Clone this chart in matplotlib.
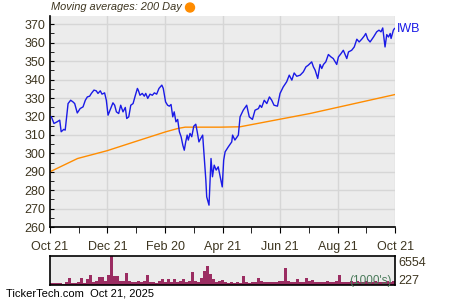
import numpy as np
import matplotlib
matplotlib.use('Agg')
from matplotlib import pyplot as plt

plt.rcParams['font.family'] = ['Liberation Sans', 'DejaVu Sans']

# price in months since Oct 21
months = [0.05, 0.14, 0.25, 0.34, 0.39, 0.48, 0.53, 0.63, 0.72, 0.80, 0.86, 0.95,
          1.05, 1.15, 1.23, 1.30, 1.38, 1.44, 1.53, 1.61, 1.67, 1.75, 1.81, 1.90,
          1.96, 2.02, 2.10, 2.19, 2.25, 2.31, 2.39, 2.46, 2.54, 2.62, 2.67, 2.74,
          2.81, 2.89, 2.97, 3.04, 3.07, 3.13, 3.21, 3.28, 3.33, 3.40, 3.48, 3.56,
          3.63, 3.71, 3.79, 3.89, 3.94, 4.02, 4.09, 4.15, 4.21, 4.27, 4.32, 4.38,
          4.44, 4.50, 4.56, 4.62, 4.67, 4.72, 4.77, 4.81, 4.87, 4.93, 5.00, 5.07,
          5.12, 5.18, 5.24, 5.31, 5.37, 5.42, 5.45, 5.53, 5.60, 5.65, 5.71, 5.78,
          5.85, 5.94, 5.99, 6.04, 6.09, 6.20, 6.32, 6.35, 6.43, 6.55, 6.61, 6.72,
          6.84, 6.93, 7.04, 7.13, 7.25, 7.30, 7.36, 7.45, 7.54, 7.63, 7.71, 7.79,
          7.91, 8.00, 8.11, 8.23, 8.32, 8.41, 8.49, 8.58, 8.70, 8.81, 8.90, 8.98,
          9.10, 9.16, 9.22, 9.31, 9.39, 9.45, 9.51, 9.59, 9.68, 9.77, 9.85, 9.97,
          10.03, 10.12, 10.20, 10.32, 10.38, 10.49, 10.58, 10.67, 10.75, 10.84,
          10.93, 10.98, 11.05, 11.13, 11.25, 11.36, 11.44, 11.51, 11.57, 11.65,
          11.71, 11.77, 11.83, 11.86, 11.94, 11.98]
price = [319.8, 316.2, 317.1, 318.0, 311.7, 313.0, 312.6, 327.0, 328.8, 327.9, 327.0, 321.9,
         324.3, 325.2, 328.8, 330.6, 331.0, 332.5, 334.3, 333.9, 332.5, 333.9, 332.1, 332.8,
         328.8, 320.7, 323.8, 327.4, 326.1, 322.5, 321.6, 326.1, 322.5, 324.9, 318.9, 319.8,
         326.1, 327.0, 331.5, 335.2, 334.3, 331.5, 332.5, 331.0, 332.5, 329.8, 332.1, 331.5,
         332.8, 332.1, 335.2, 337.0, 335.2, 327.9, 326.1, 325.6, 326.5, 319.8, 322.5, 317.1,
         318.4, 311.7, 309.0, 304.4, 301.7, 306.2, 309.9, 307.2, 310.8, 309.0, 314.7, 315.8,
         311.7, 306.2, 308.0, 309.9, 296.3, 285.5, 276.4, 271.9, 297.2, 287.3, 293.6, 290.9,
         292.7, 285.5, 281.8, 296.3, 300.8, 303.5, 306.2, 309.9, 307.2, 309.9, 319.8, 323.4,
         326.1, 319.8, 318.4, 323.4, 324.3, 326.1, 324.9, 328.8, 327.0, 330.6, 328.8, 326.1,
         325.6, 332.5, 336.0, 338.8, 342.4, 339.7, 343.6, 341.8, 342.4, 344.2, 346.9, 347.8,
         349.6, 346.9, 345.1, 340.6, 348.2, 346.0, 348.2, 349.6, 353.6, 352.3, 351.4, 348.2,
         352.3, 354.1, 355.9, 351.4, 355.0, 355.9, 357.7, 361.9, 360.4, 361.9,
         363.7, 365.0, 361.9, 360.4, 363.1, 365.9, 366.8, 365.9, 368.0, 357.7,
         364.4, 363.1, 365.0, 362.3, 366.8, 367.7]

ma_months = [0, 0.96, 1.98, 3.13, 4.03, 4.45, 4.70, 5.91, 6.61, 9.04, 12.0]
ma_200 = [290.0, 297.2, 301.4, 307.2, 311.7, 313.5, 314.2, 314.2, 314.4, 321.6, 331.9]

volume = [550, 420, 380, 450, 320, 600, 1560, 500, 420, 650,
          1560, 480, 1270, 2230, 700, 900, 1850, 1700, 800, 2230,
          6554, 1900, 2000, 900, 850, 2600, 900, 700, 600, 800,
          650, 900, 2230, 700, 600, 500, 800, 1300, 600, 1400,
          700, 1300, 600, 900, 1400, 700, 800, 2800, 900, 700,
          1500, 3100, 4300, 2450, 1300, 700, 900, 1200, 600, 500,
          700, 500, 600, 550, 2000, 600, 500, 700, 600, 1500,
          800, 700, 600, 750, 700, 600, 800, 900, 3800, 900,
          700, 600, 1400, 650, 700, 1500, 800, 1200, 700, 600,
          650, 700, 800, 600, 700, 800, 2230, 600, 700, 650,
          900, 700, 800, 600, 750, 900, 700, 650, 800, 700,
          600, 750, 800, 700, 900]

tick_pos = [0, 2, 4, 6, 8, 10, 12]
tick_labels = ['Oct 21', 'Dec 21', 'Feb 20', 'Apr 21', 'Jun 21', 'Aug 21', 'Oct 21']

txt = '#3d3520'
bg = '#ececec'

fig = plt.figure(figsize=(4.5, 3), dpi=100)
ax = fig.add_axes([0.111, 0.243, 0.767, 0.705])
ax.set_facecolor(bg)
ax.plot(months, price, color='#1a1ae6', lw=1.0, zorder=3)
ax.plot(ma_months, ma_200, color='#ff8c00', lw=1.0, zorder=2)
ax.set_xlim(0, 12)
ax.set_ylim(260, 374.7)
ax.set_yticks(np.arange(260, 371, 10))
ax.set_yticks(np.arange(265, 371, 10), minor=True)
ax.set_xticks(tick_pos)
ax.set_xticklabels(tick_labels)
ax.set_xticks([1, 3, 5, 7, 9, 11], minor=True)
ax.grid(True, which='major', color='#d6d6d6', lw=1)
ax.set_axisbelow(True)
ax.tick_params(axis='y', which='both', direction='in', length=3, colors='black',
               labelcolor=txt, labelsize=9)
ax.tick_params(axis='x', which='both', direction='out', length=4, colors='black',
               labelcolor=txt, labelsize=9, pad=6)
for s in ['top', 'right']:
    ax.spines[s].set_visible(False)
ax.spines['left'].set_linewidth(1.2)
ax.spines['bottom'].set_linewidth(1.2)
ax.text(1.005, price[-1], 'IWB', transform=ax.get_yaxis_transform(), color='#1a1ae6',
        fontsize=9, va='center', ha='left')

fig.text(0.114, 0.975, 'Moving averages: 200 Day', fontsize=7.9, style='italic',
         color=txt, va='center', ha='left')
fig.patches.append(matplotlib.patches.Ellipse((190 / 450, 1 - 7.5 / 300), 9 / 450, 9 / 300,
                                              transform=fig.transFigure, color='#ff8c00'))

vx = np.linspace(0, 12, len(volume) + 1)[:-1]
av = fig.add_axes([0.111, 0.05, 0.767, 0.098])
av.set_facecolor(bg)
av.bar(vx, volume, width=12 / len(volume), align='edge', color='#9b2d62', lw=0)
av.set_xlim(0, 12)
av.set_ylim(0, 6554)
av.set_xticks([])
av.set_yticks([])
for s in av.spines.values():
    s.set_linewidth(1.2)
av.text(1.01, 0.76, '6554', transform=av.transAxes, fontsize=9, color=txt, va='center')
av.text(1.01, 0.12, '227', transform=av.transAxes, fontsize=9, color=txt, va='center')
av.text(0.99, 0.12, "(1000's)", transform=av.transAxes, fontsize=8.5, color='#4a7a5a',
        va='center', ha='right')

fig.text(0.013, 0.02, 'TickerTech.com  Oct 21, 2025', fontsize=8, color='black',
         va='center', ha='left')

fig.savefig('out.png', dpi=100)
